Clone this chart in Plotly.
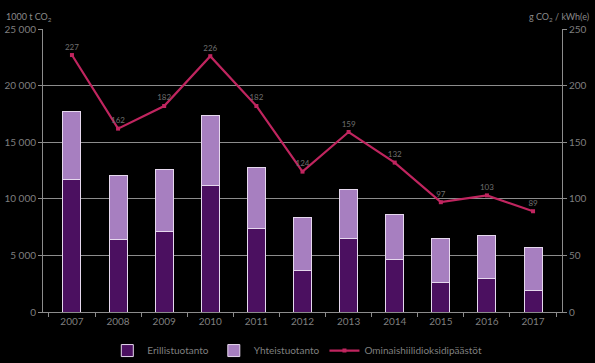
import plotly.graph_objects as go

years = ["2007", "2008", "2009", "2010", "2011", "2012", "2013", "2014", "2015", "2016", "2017"]
erillis = [11700, 6400, 7100, 11200, 7400, 3700, 6450, 4650, 2600, 2950, 1900]
yhteis = [6000, 5700, 5500, 6200, 5350, 4650, 4400, 4000, 3850, 3850, 3800]
ominais = [227, 162, 182, 226, 182, 124, 159, 132, 97, 103, 89]

left_ticks = [0, 5000, 10000, 15000, 20000, 25000]
left_labels = ["0", "5 000", "10 000", "15 000", "20 000", "25 000"]
right_ticks = [0, 50, 100, 150, 200, 250]

FONT = "Lato"
TXT = "#7f7f7f"
GRID = "#8c8c8c"

fig = go.Figure()
fig.add_trace(go.Bar(x=years, y=erillis, name="Erillistuotanto",
                     marker=dict(color="#4b1060", line=dict(color="#e6d8ee", width=1))))
fig.add_trace(go.Bar(x=years, y=yhteis, name="Yhteistuotanto",
                     marker=dict(color="#a77fc0", line=dict(color="#e6d8ee", width=1))))
fig.add_trace(go.Scatter(x=years, y=ominais, name="Ominaishiilidioksidipäästöt", yaxis="y2",
                         mode="lines+markers+text", text=[str(v) for v in ominais],
                         textposition="top center",
                         textfont=dict(family=FONT, size=8, color="#6f6f6f"),
                         line=dict(color="#c0255f", width=2.2),
                         marker=dict(symbol="square", size=4, color="#c0255f")))

fig.update_layout(
    width=595, height=363,
    paper_bgcolor="black", plot_bgcolor="black",
    barmode="stack", bargap=0.61,
    margin=dict(l=43, r=33, t=29, b=51, autoexpand=False),
    font=dict(family=FONT, size=10, color=TXT),
    showlegend=True,
    legend=dict(orientation="h", x=0.49, xanchor="center", y=-0.085, yanchor="top",
                font=dict(family=FONT, size=10, color=TXT), bgcolor="rgba(0,0,0,0)",
                itemwidth=30, traceorder="normal"),
    xaxis=dict(type="category", showgrid=False, showline=True, linecolor=GRID, linewidth=1,
               ticks="outside", tickson="boundaries", ticklen=4, tickcolor=GRID,
               automargin=False,
               tickfont=dict(family=FONT, size=10, color=TXT)),
    yaxis=dict(range=[0, 25000], tickvals=left_ticks, ticktext=left_labels,
               showgrid=True, gridcolor=GRID, gridwidth=1, showline=True, linecolor=GRID,
               ticks="outside", ticklen=4, tickcolor=GRID, zeroline=False, automargin=False,
               tickfont=dict(family=FONT, size=10, color=TXT)),
    yaxis2=dict(range=[0, 250], tickvals=right_ticks, overlaying="y", side="right",
                showgrid=False, showline=True, linecolor=GRID, ticks="outside", ticklen=4,
                tickcolor=GRID, zeroline=False, automargin=False,
                tickfont=dict(family=FONT, size=10, color=TXT)),
    annotations=[
        dict(text="1000 t CO<sub>2</sub>", xref="paper", yref="paper", x=-0.075, y=1.0,
             xanchor="left", yanchor="bottom", yshift=4, showarrow=False,
             font=dict(family=FONT, size=9, color="#8a8a8a")),
        dict(text="g CO<sub>2</sub> / kWh(e)", xref="paper", yref="paper", x=1.055, y=1.0,
             xanchor="right", yanchor="bottom", yshift=4, showarrow=False,
             font=dict(family=FONT, size=9, color="#8a8a8a")),
    ],
)

fig.write_html("out.html", config={"displayModeBar": False},
               post_script="document.body.style.margin='0';document.body.style.background='black';")
